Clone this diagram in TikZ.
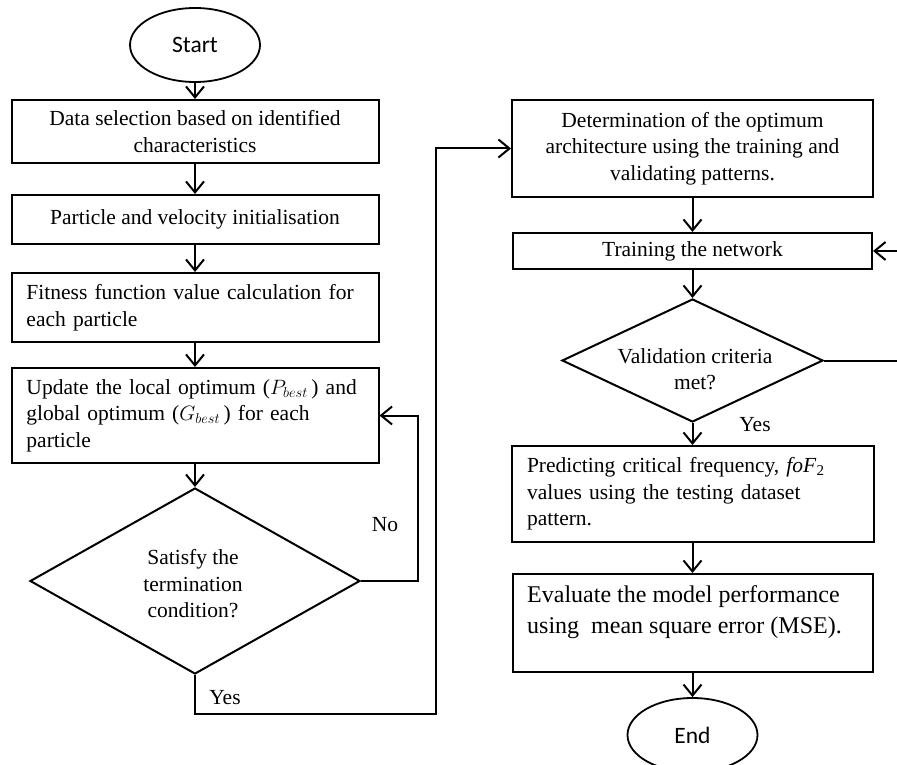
\documentclass[tikz,border=0pt]{standalone}
\usepackage{fontspec}
\setmainfont{Liberation Serif}
\newfontfamily\calibrifont{Carlito}
\usetikzlibrary{shapes.geometric,arrows.meta}
\begin{document}
\begin{tikzpicture}[x=1pt,y=-1pt,
  every node/.style={font=\fontsize{21.5}{26.5}\selectfont},
  box/.style={draw, line width=2pt, rectangle, inner sep=0pt},
  cbox/.style={box, align=center},
  lbox/.style={box, align=left, inner xsep=15pt, text width=#1},
  ell/.style={draw, line width=1.8pt, ellipse, inner sep=0pt, minimum width=130pt, minimum height=74pt, font=\calibrifont\fontsize{23.5}{28}\selectfont},
  dia/.style={draw, line width=2pt, diamond, inner sep=0pt},
  txt/.style={inner sep=0pt, align=center},
  arr/.style={line width=2pt, -{Straight Barb[length=11pt,width=18pt,line width=2pt]}},
  ln/.style={line width=2pt}]
\useasboundingbox (0,0) rectangle (897,765);
% left column
\node[ell] (start) at (195,45) {Start};
\node[cbox, minimum width=367pt, minimum height=63pt] (b1) at (195,131.5) {Data selection based on identified\\characteristics};
\node[cbox, minimum width=367pt, minimum height=49pt] (b2) at (195,219.5) {Particle and velocity initialisation};
\node[lbox=337pt, minimum width=367pt, minimum height=69pt] (b3) at (195,307.5) {Fitness function value calculation for\\each particle};
\node[lbox=337pt, minimum width=367pt, minimum height=95pt] (b4) at (195,415.5) {Update the local optimum (\(P_{best}\,\)) and\\global optimum (\(G_{best}\,\)) for each\\particle};
\node[dia, minimum width=330pt, minimum height=186pt] (d1) at (195,581) {};
\node[txt] (d1t) at (193,584) {Satisfy the\\termination\\condition?};
\node[txt] (no) at (385,525) {No};
\node[txt] (yes1) at (225,698) {Yes};
% right column
\node[cbox, minimum width=361pt, minimum height=97pt] (b5) at (692.5,148.5) {Determination of the optimum\\architecture using the training and\\validating patterns.};
\node[cbox, minimum width=359pt, minimum height=36pt] (b6) at (692.5,251) {Training the network};
\node[dia, minimum width=261pt, minimum height=123pt] (d2) at (692.5,360.5) {};
\node[txt] (d2t) at (695,369) {Validation criteria\\met?};
\node[txt] (yes2) at (755,425) {Yes};
\node[lbox=332pt, minimum width=360pt, minimum height=96pt] (b7) at (693,494) {Predicting critical frequency, \textit{foF}\textsubscript{2}\\values using the testing dataset\\pattern.};
\node[box, minimum width=360pt, minimum height=98pt] (b8) at (693,623) {};
\node[inner sep=0pt, align=left, anchor=west, font=\fontsize{24}{31}\selectfont] (b8t) at (527,612.5) {Evaluate the model performance\\using\ \ mean square error (MSE).};
\node[ell] (end) at (692.5,735) {End};
% connectors
\draw[arr] (start.south) -- (start.south |- b1.north);
\draw[arr] (b1.south) -- (b2.north);
\draw[arr] (b2.south) -- (b3.north);
\draw[arr] (b3.south) -- (b4.north);
\draw[arr] (b4.south) -- (d1.north);
\draw[arr] (d1.east) -- ++(57,0) |- (b4.east);
\draw[arr] (d1.south) -- ++(0,39) -- ++(241,0) |- (b5.west);
\draw[arr] (b5.south) -- (b6.north);
\draw[arr] (b6.south) -- (d2.north);
\draw[ln] (d2.east) -- ++(120,0) coordinate (c1);
\draw[arr] (c1) |- (b6.east);
\draw[arr] (d2.south) -- (d2.south |- b7.north);
\draw[arr] (b7.south -| end.north) -- (b8.north -| end.north);
\draw[arr] (b8.south -| end.north) -- (end.north);
\end{tikzpicture}
\end{document}
